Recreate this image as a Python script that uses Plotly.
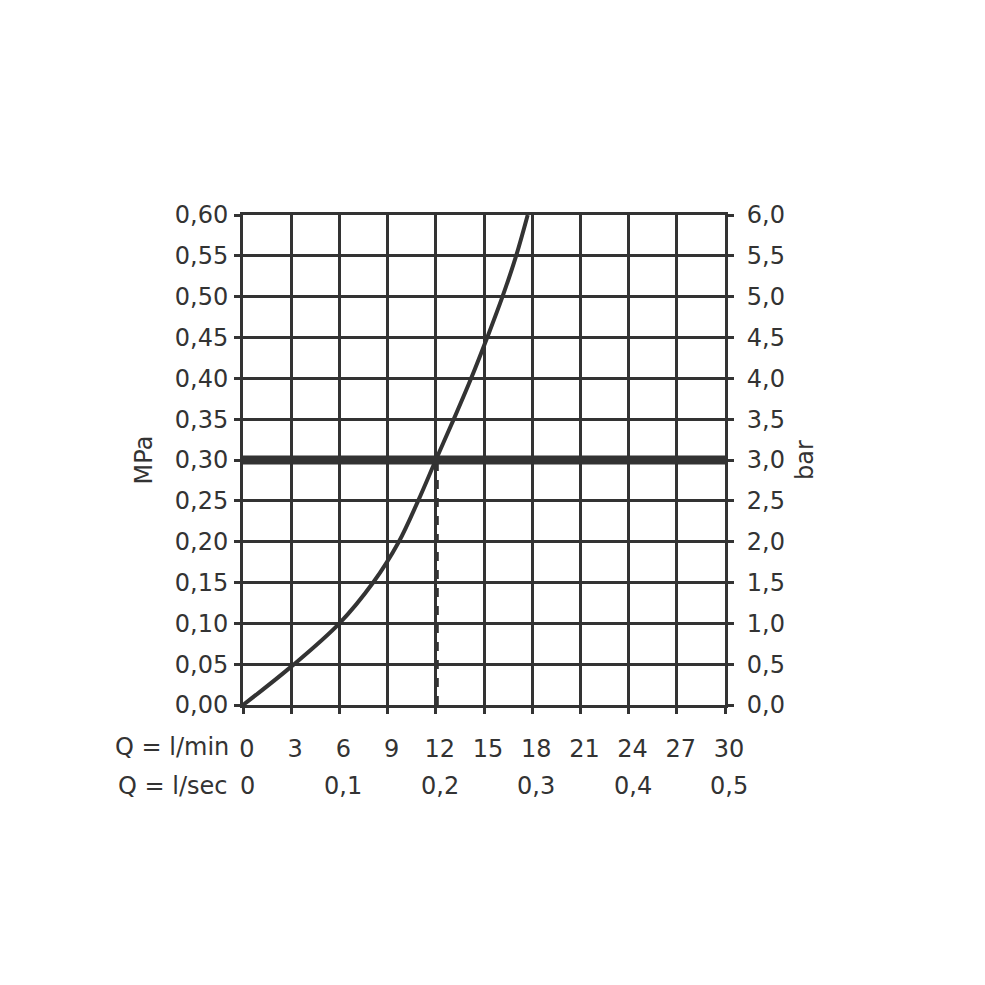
import plotly.graph_objects as go

# Flow (l/min) vs pressure (MPa)
flow_lmin = [0, 3, 6, 8.1, 9.7, 10.9, 12.0, 13.12, 14.2, 15.2, 16.15, 17.0, 17.72]
pressure_mpa = [0, 0.047, 0.10, 0.15, 0.20, 0.25, 0.30, 0.35, 0.40, 0.45, 0.50, 0.55, 0.60]

# Operating point
operating_flow = 12
operating_pressure = 0.30

# Axis ticks
x_ticks = [0, 3, 6, 9, 12, 15, 18, 21, 24, 27, 30]
x_ticklabels = ["0", "3", "6", "9", "12", "15", "18", "21", "24", "27", "30"]
sec_ticks = [0, 6, 12, 18, 24, 30]
sec_ticklabels = ["0", "0,1", "0,2", "0,3", "0,4", "0,5"]
mpa_ticks = [0, 0.05, 0.10, 0.15, 0.20, 0.25, 0.30, 0.35, 0.40, 0.45, 0.50, 0.55, 0.60]
mpa_ticklabels = ["0,00", "0,05", "0,10", "0,15", "0,20", "0,25", "0,30",
                  "0,35", "0,40", "0,45", "0,50", "0,55", "0,60"]
bar_ticks = [0, 0.5, 1.0, 1.5, 2.0, 2.5, 3.0, 3.5, 4.0, 4.5, 5.0, 5.5, 6.0]
bar_ticklabels = ["0,0", "0,5", "1,0", "1,5", "2,0", "2,5", "3,0",
                  "3,5", "4,0", "4,5", "5,0", "5,5", "6,0"]

INK = "#333333"
FONT = "DejaVu Sans"
FS = 24

fig = go.Figure()

fig.add_trace(go.Scatter(
    x=flow_lmin, y=pressure_mpa, mode="lines",
    line=dict(color=INK, width=4, shape="spline", smoothing=1.0),
    hoverinfo="skip", showlegend=False, cliponaxis=False,
))
# invisible trace on bar axis so it is drawn
fig.add_trace(go.Scatter(
    x=[0, 30], y=[0, 6], yaxis="y2", mode="markers",
    marker=dict(opacity=0), hoverinfo="skip", showlegend=False,
))

common_axis = dict(
    showgrid=True, gridcolor=INK, gridwidth=3,
    showline=True, linecolor=INK, linewidth=3,
    ticks="outside", ticklen=6, tickwidth=3, tickcolor=INK,
    zeroline=False,
    tickfont=dict(family=FONT, size=FS, color=INK),
)

fig.update_layout(
    width=985, height=985,
    margin=dict(l=235, r=268, t=207, b=288),
    paper_bgcolor="white", plot_bgcolor="white",
    font=dict(family=FONT, size=FS, color=INK),
    xaxis=dict(range=[0, 30], tickmode="array", tickvals=x_ticks,
               ticktext=x_ticklabels, mirror=True, ticklabelstandoff=14,
               ticklabelshift=4,
               **common_axis),
    yaxis=dict(range=[0, 0.6], tickmode="array", tickvals=mpa_ticks,
               ticktext=mpa_ticklabels, ticklabelstandoff=1,
               title=dict(text="MPa", font=dict(family=FONT, size=FS, color=INK),
                          standoff=16),
               **common_axis),
    yaxis2=dict(range=[0, 6], overlaying="y", side="right",
                tickmode="array", tickvals=bar_ticks, ticktext=bar_ticklabels,
                ticklabelstandoff=8,
                title=dict(text="bar", font=dict(family=FONT, size=FS, color=INK),
                           standoff=13),
                showgrid=False, showline=True, linecolor=INK, linewidth=3,
                ticks="outside", ticklen=6, tickwidth=3, tickcolor=INK,
                zeroline=False,
                tickfont=dict(family=FONT, size=FS, color=INK)),
)

shapes = [
    # cover the grid line below the operating point
    dict(type="line", xref="x", yref="y", x0=operating_flow, x1=operating_flow,
         y0=0, y1=operating_pressure, line=dict(color="white", width=4), layer="below"),
    dict(type="line", xref="x", yref="y", xsizemode="pixel", xanchor=operating_flow,
         x0=-1, x1=-1, y0=0, y1=operating_pressure,
         line=dict(color="#8a8a8a", width=1), layer="below"),
    dict(type="line", xref="x", yref="y", xsizemode="pixel", xanchor=operating_flow,
         x0=2, x1=2, y0=0, y1=operating_pressure,
         line=dict(color=INK, width=2, dash="dash"), layer="below"),
    # thick operating pressure line
    dict(type="line", xref="x", yref="y", x0=0, x1=30,
         y0=operating_pressure, y1=operating_pressure,
         line=dict(color=INK, width=9), layer="above"),
]
fig.update_layout(shapes=shapes)

annotations = [
    dict(text="Q = l/min", xref="x", yref="paper", x=0, y=0, xanchor="right",
         yanchor="middle", xshift=-12, yshift=-42, showarrow=False,
         font=dict(family=FONT, size=FS, color=INK)),
    dict(text="Q = l/sec", xref="x", yref="paper", x=0, y=0, xanchor="right",
         yanchor="middle", xshift=-14, yshift=-81, showarrow=False,
         font=dict(family=FONT, size=FS, color=INK)),
]
for v, t in zip(sec_ticks, sec_ticklabels):
    annotations.append(dict(text=t, xref="x", yref="paper", x=v, y=0,
                            xanchor="center", yanchor="middle", yshift=-81,
                            xshift=4, showarrow=False,
                            font=dict(family=FONT, size=FS, color=INK)))
fig.update_layout(annotations=annotations)

fig.write_html("out.html")
